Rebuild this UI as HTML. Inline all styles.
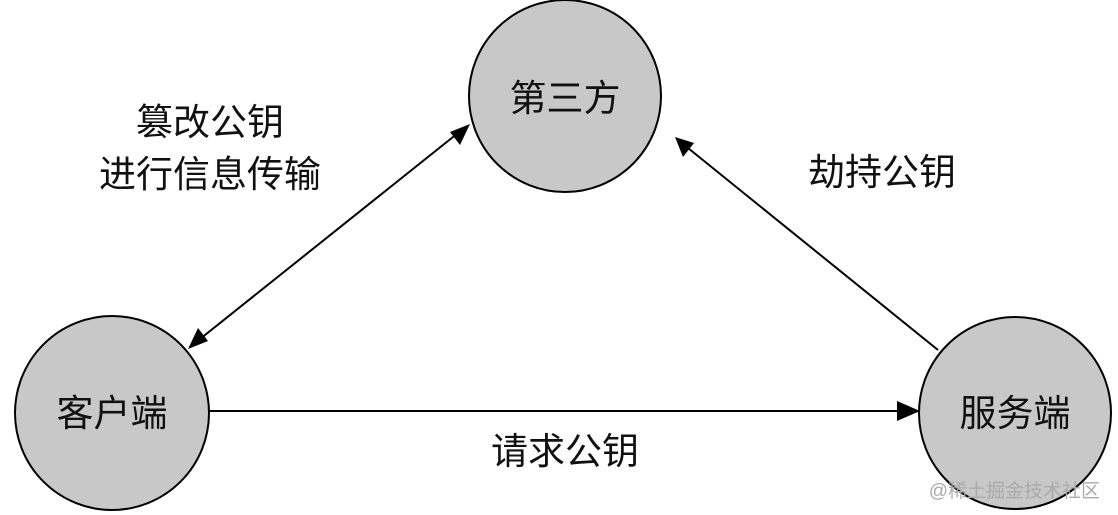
<!DOCTYPE html>
<html><head><meta charset="utf-8"><style>
html,body{margin:0;padding:0;background:#fff;}
svg{display:block;}
text{font-family:"Liberation Sans","Noto Sans CJK SC",sans-serif;fill:#111;}
</style></head><body>
<svg width="1118" height="515" viewBox="0 0 1118 515">
<circle cx="565" cy="96" r="96" fill="#c8c8c8" stroke="#000" stroke-width="2"/>
<circle cx="112" cy="413" r="97" fill="#c8c8c8" stroke="#000" stroke-width="2"/>
<circle cx="1015" cy="413" r="96" fill="#c8c8c8" stroke="#000" stroke-width="2"/>
<line x1="209" y1="411" x2="900" y2="411" stroke="#000" stroke-width="2"/>
<polygon points="920,411 897,401 897,421" fill="#000"/>
<line x1="200" y1="339" x2="458" y2="133" stroke="#000" stroke-width="2"/>
<polygon points="188,349 208,341 198,328" fill="#000"/>
<polygon points="470,124 450,132 460,145" fill="#000"/>
<line x1="938" y1="350" x2="688" y2="148" stroke="#000" stroke-width="2"/>
<polygon points="675,137 683,157 694,143" fill="#000"/>
<g font-size="37" text-anchor="middle">
<text x="565" y="111">第三方</text>
<text x="112" y="426">客户端</text>
<text x="1015" y="426">服务端</text>
<text x="565" y="464">请求公钥</text>
<text x="210" y="135">篡改公钥</text>
<text x="210" y="187">进行信息传输</text>
<text x="882" y="185">劫持公钥</text>
</g>
<text x="1100" y="497" font-size="19" text-anchor="end" style="fill:#aaa">@稀土掘金技术社区</text>
</svg>
</body></html>
